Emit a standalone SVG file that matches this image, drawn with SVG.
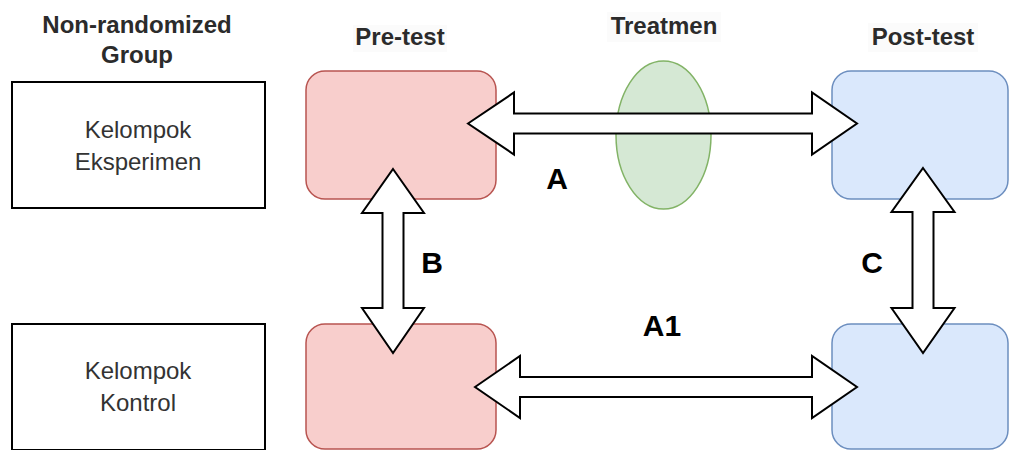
<svg xmlns="http://www.w3.org/2000/svg" width="1009" height="450" viewBox="0 0 1009 450">
<style>
.hdr{font-family:"Liberation Sans",Arial,sans-serif;font-size:24px;font-weight:bold;fill:#2b2b2b;text-anchor:middle}
.lbl{font-family:"Liberation Sans",Arial,sans-serif;font-size:30px;font-weight:bold;fill:#000;text-anchor:middle}
.grp{font-family:"Liberation Sans",Arial,sans-serif;font-size:24px;fill:#333;text-anchor:middle}
.plain{fill:#fff;stroke:#000;stroke-width:2}
.pre{fill:#f8cecc;stroke:#b85450;stroke-width:1.5}
.post{fill:#dae8fc;stroke:#6c8ebf;stroke-width:1.5}
.treat{fill:#d5e8d4;stroke:#82b366;stroke-width:1.5}
.arr{fill:#fff;stroke:#000;stroke-width:2;stroke-linejoin:miter}
.bg{fill:#fbfbfb}
</style>
<rect width="1009" height="450" fill="#fff"/>
<g id="headers">
<text class="hdr" x="137" y="33">Non-randomized</text>
<text class="hdr" x="137" y="63">Group</text>
<rect class="bg" x="353" y="25" width="94" height="27"/>
<text class="hdr" x="400" y="45">Pre-test</text>
<rect class="bg" x="607" y="12" width="114" height="30"/>
<text class="hdr" x="664" y="34">Treatmen</text>
<rect class="bg" x="868" y="23" width="110" height="29"/>
<text class="hdr" x="923" y="45">Post-test</text>
</g>
<g id="kelompok-eksperimen">
<rect class="plain" x="12" y="82" width="253" height="126"/>
<text class="grp" x="138" y="138">Kelompok</text>
<text class="grp" x="138" y="170">Eksperimen</text>
</g>
<g id="kelompok-kontrol">
<rect class="plain" x="12" y="324" width="253" height="126"/>
<text class="grp" x="138" y="379">Kelompok</text>
<text class="grp" x="138" y="411">Kontrol</text>
</g>
<g id="pre-eksperimen"><rect class="pre" x="306" y="71" width="190" height="128" rx="19"/></g>
<g id="pre-kontrol"><rect class="pre" x="306" y="324" width="190" height="125" rx="19"/></g>
<g id="post-eksperimen"><rect class="post" x="832" y="71" width="176" height="128" rx="19"/></g>
<g id="post-kontrol"><rect class="post" x="832" y="324" width="176" height="125" rx="19"/></g>
<g id="treatmen"><ellipse class="treat" cx="663.5" cy="135" rx="47.5" ry="74"/></g>
<g id="connectors">
<polygon class="arr" points="468,123.5 514,92.5 514,113.5 812,113.5 812,92.5 857,123.5 812,154.5 812,133.5 514,133.5 514,154.5"/>
<polygon class="arr" points="475,387 520,356 520,377 812,377 812,356 857,387 812,418 812,397 520,397 520,418"/>
<polygon class="arr" points="393,169 424,213 403.5,213 403.5,308 424,308 393,353 362,308 382.5,308 382.5,213 362,213"/>
<polygon class="arr" points="923,168 954.5,212 933.5,212 933.5,308 954.5,308 923,353 891.5,308 912.5,308 912.5,212 891.5,212"/>
</g>
<g id="labels">
<text class="lbl" x="557" y="189">A</text>
<text class="lbl" x="432" y="273">B</text>
<text class="lbl" x="872" y="273">C</text>
<text class="lbl" x="662" y="336">A1</text>
</g>
</svg>
